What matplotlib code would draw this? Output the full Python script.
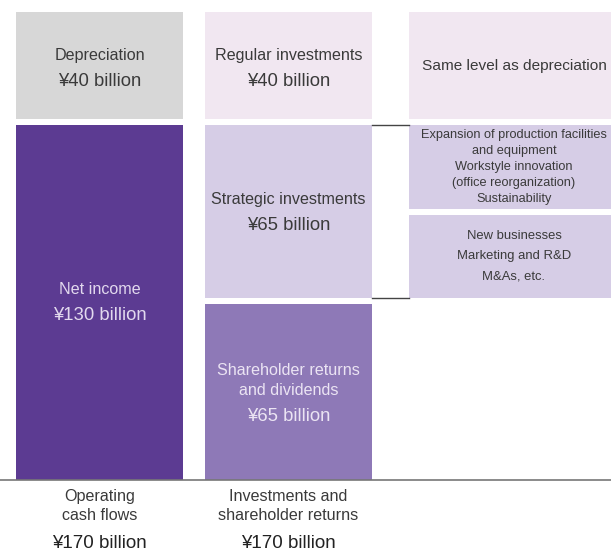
import numpy as np
import matplotlib.pyplot as plt

plt.rcParams['font.family'] = ['Liberation Sans', 'DejaVu Sans']

# stacked from the bottom up
cf_names = ['Net income', 'Depreciation']
cf_values = [130, 40]
cf_colors = ['#5c3b92', '#d7d7d7']
cf_text = ['#e2d9ee', '#3a3a3a']

use_names = ['Shareholder returns\nand dividends', 'Strategic investments', 'Regular investments']
use_values = [65, 65, 40]
use_colors = ['#8e79b7', '#d6cde6', '#f1e7f1']
use_text = ['#ebe4f3', '#3a3a3a', '#3a3a3a']

# breakdown of strategic investments (split evenly) plus regular investments
detail_base = 65
detail_values = [32.5, 32.5, 40]
detail_texts = ['New businesses\nMarketing and R&D\nM&As, etc.',
                'Expansion of production facilities\nand equipment\nWorkstyle innovation\n(office reorganization)\nSustainability',
                'Same level as depreciation']
detail_sizes = [9.4, 9.2, 11.1]
detail_spacing = [1.9, 1.45, 1.2]
detail_colors = ['#d6cde6', '#d6cde6', '#f1e7f1']

bar_titles = ['Operating\ncash flows', 'Investments and\nshareholder returns']
bar_totals = [sum(cf_values), sum(use_values)]

gap = 2.2
px = 170 / 468  # data units per pixel
x_cf, x_use, width = 99.5, 288.5, 167
x_det, det_width = 514, 210

fig = plt.figure(figsize=(6.11, 5.51), dpi=100)
ax = fig.add_axes([0, 0, 1, 1])
ax.set_xlim(0, 611)
ax.set_ylim(-71 * px, 170 + 12 * px)
ax.axis('off')


def stack(x, w, values, colors, base=0):
    spans = []
    bottom = base
    top = base + sum(values)
    for v, c in zip(values, colors):
        lo = bottom + (gap / 2 if bottom > 0 else 0)
        hi = bottom + v - (gap / 2 if bottom + v < top else 0)
        ax.bar(x, hi - lo, width=w, bottom=lo, color=c, linewidth=0)
        spans.append((lo, hi))
        bottom += v
    return spans


def seg_label(x, yc, name, value, color, shift=0):
    lines = name.split('\n')
    n = len(lines)
    span = 20 * (n - 1) + 26
    start = -span / 2 + shift
    for i, line in enumerate(lines):
        ax.annotate(line, (x, yc), xytext=(0, -(start + 20 * i) * 0.72),
                    textcoords='offset points', ha='center', va='center',
                    fontsize=11.6, color=color)
    ax.annotate('¥%d billion' % value, (x, yc), xytext=(0, -(start + span) * 0.72),
                textcoords='offset points', ha='center', va='center',
                fontsize=13.3, color=color)


cf_spans = stack(x_cf, width, cf_values, cf_colors)
use_spans = stack(x_use, width, use_values, use_colors)
det_spans = stack(x_det, det_width, detail_values, detail_colors, base=detail_base)

for (lo, hi), name, v, c in zip(cf_spans, cf_names, cf_values, cf_text):
    seg_label(x_cf, (lo + hi) / 2, name, v, c, shift=3 if name == 'Depreciation' else 0)
for (lo, hi), name, v, c in zip(use_spans, use_names, use_values, use_text):
    seg_label(x_use, (lo + hi) / 2, name, v, c, shift=3 if v == 40 else 1)
for (lo, hi), t, fs, ls in zip(det_spans, detail_texts, detail_sizes, detail_spacing):
    ax.text(x_det, (lo + hi) / 2, t, ha='center', va='center', fontsize=fs,
            color='#3a3a3a', linespacing=ls)

# brackets tying strategic investments to its breakdown
strat_lo, strat_hi = use_spans[1]
for y in (strat_lo, strat_hi):
    ax.plot([x_use + width / 2, x_det - det_width / 2], [y, y], color='#444444', lw=1)

ax.axhline(0, color='#777777', lw=1.2)

for x, title, total in zip([x_cf, x_use], bar_titles, bar_totals):
    ax.annotate(title, (x, 0), xytext=(0, -26 * 0.72), textcoords='offset points',
                ha='center', va='center', fontsize=11.6, color='#3a3a3a', linespacing=1.35)
    ax.annotate('¥%d billion' % total, (x, 0), xytext=(0, -63 * 0.72), textcoords='offset points',
                ha='center', va='center', fontsize=13.5, color='#222222')

fig.savefig('out.png', dpi=100)
